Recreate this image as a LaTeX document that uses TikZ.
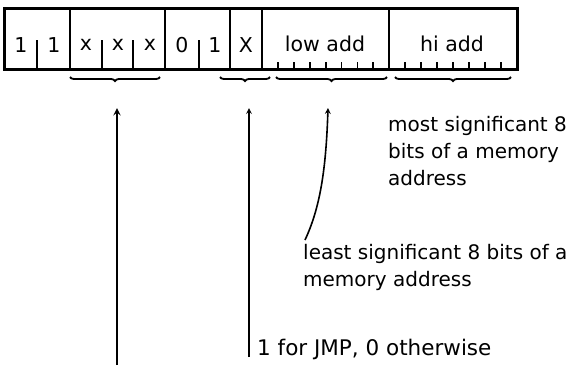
\documentclass[tikz,border=0pt]{standalone}
\usepackage{fontspec}
\setmainfont{DejaVu Sans}
\usetikzlibrary{decorations.pathreplacing}

\tikzset{
  bitlabel/.style={font=\fontsize{20.5}{24}\selectfont, inner sep=0pt},
  note/.style={font=\fontsize{20}{27}\selectfont, align=left, inner sep=0pt},
  fieldbrace/.style={decorate, decoration={brace, mirror, amplitude=4pt}, line width=1.8pt},
}

\begin{document}
\begin{tikzpicture}[x=1pt, y=-1pt, >=stealth]
  \useasboundingbox (0,0) rectangle (576,365);

  % --- 1. instruction word ---
  \draw[line width=3pt] (4,8) rectangle (517,69);
  \foreach \x in {70,165,230,262,389}
    \draw[line width=2.5pt] (\x,8) -- (\x,69);

  % bit ticks inside the opcode
  \foreach \x in {37,102,133,199}
    \draw[line width=2.2pt] (\x,40) -- (\x,69);

  % small ticks of the address bytes
  \foreach \i in {1,...,7} {
    \draw[line width=1.8pt] ({262+\i*15.9},62) -- ({262+\i*15.9},69);
    \draw[line width=1.8pt] ({389+\i*16},62) -- ({389+\i*16},69);
  }

  % --- 2. bit contents ---
  \node[bitlabel] (b7) at (21,45) {1};
  \node[bitlabel] (b6) at (54,45) {1};
  \node[bitlabel] (b5) at (86,45) {x};
  \node[bitlabel] (b4) at (118,45) {x};
  \node[bitlabel] (b3) at (150,45) {x};
  \node[bitlabel] (b2) at (182,45) {0};
  \node[bitlabel] (b1) at (215,45) {1};
  \node[bitlabel] (b0) at (246,45) {X};
  \node[bitlabel] (lo) at (325,44) {low add};
  \node[bitlabel] (hi) at (452,44) {hi add};

  % --- 3. braces under the fields ---
  \draw[fieldbrace] (70,77) -- (160,77);
  \draw[fieldbrace] (220,77) -- (270,77);
  \draw[fieldbrace] (276,77) -- (387,77);
  \draw[fieldbrace] (395,77) -- (511,77);

  % --- 4. notes ---
  \node[note, anchor=north west] (msb) at (388,116)
    {most significant 8\\bits of a memory\\address};
  \node[note, anchor=north west] (lsb) at (303,244)
    {least significant 8 bits of a\\memory address};
  \node[note, anchor=west, font=\fontsize{21.5}{27}\selectfont] (jmp) at (257,349)
    {1 for JMP, 0 otherwise};

  % --- 5. arrows ---
  \coordinate (regtip)  at (117,108);
  \coordinate (regfoot) at (117,365);
  \coordinate (jmptip)  at (249,108);
  \coordinate (jmpfoot) at (249,357);
  \coordinate (lsbtip)  at (328,108);
  \coordinate (lsbtail) at (305,240);

  \draw[->, line width=2.2pt] (regfoot) -- (regtip);
  \draw[->, line width=1.6pt] (jmpfoot) -- (jmptip);
  \draw[->, line width=1.6pt] (lsbtail) .. controls (320,208) and (326,170) .. (lsbtip);

\end{tikzpicture}
\end{document}
